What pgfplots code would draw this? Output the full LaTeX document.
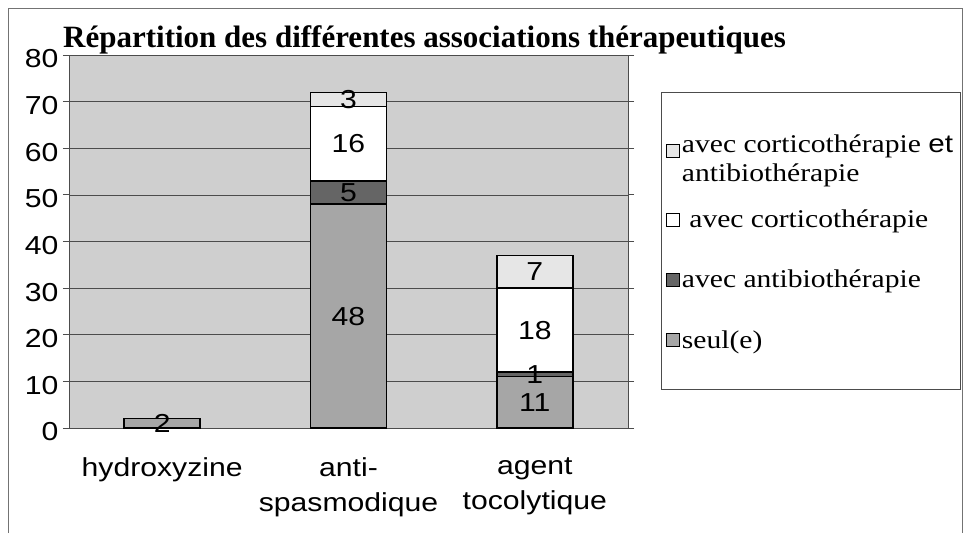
\documentclass[border=0pt]{standalone}
\usepackage{pgfplots}
\usepackage{pgfplotstable}
\pgfplotsset{compat=1.18}
\usepackage{fontspec}
\setmainfont{Liberation Serif}
\newfontfamily\arial{Liberation Sans}[FakeStretch=1.16]
\newfontfamily\timesw{Liberation Serif}[FakeStretch=1.16]
\definecolor{plotbg}{HTML}{CFCFCF}
\definecolor{seul}{HTML}{A6A6A6}
\definecolor{antib}{HTML}{656565}
\definecolor{cortico}{HTML}{FFFFFF}
\definecolor{both}{HTML}{E6E6E6}
\pgfplotstableread{
x a b c d
0 2 0 0 0
1 48 5 16 3
2 11 1 18 7
}\data
\begin{document}
\begin{tikzpicture}[x=1pt,y=1pt]
\path[use as bounding box] (0,0) rectangle (968,533);
\draw[black!55, line width=0.8pt] (8,0) -- (8,525) -- (962,525) -- (962,0);
\node[anchor=base west, inner sep=0pt, font=\fontsize{31}{36}\selectfont\bfseries] at (63,485) {Répartition des différentes associations thérapeutiques};
\begin{axis}[
  at={(69pt,105pt)}, anchor=south west,
  scale only axis, width=559pt, height=373pt,
  ybar stacked, bar width=76pt,
  xmin=-0.5, xmax=2.5, ymin=0, ymax=80,
  ytick={0,10,...,80},
  xtick={0,1,2},
  xticklabels={hydroxyzine, anti-\\spasmodique, agent\\tocolytique},
  x tick style={draw=none},
  extra x ticks={-0.5,0.5,1.5,2.5},
  extra x tick labels={},
  extra x tick style={major tick length=6pt, tick style={draw=black!60, line width=0.6pt}, grid=none},
  tick align=outside,
  y tick style={draw=black!70, line width=0.8pt},
  major tick length=6pt,
  ymajorgrids, grid style={black!70, line width=0.7pt},
  axis line style={black!70, line width=0.8pt},
  axis background/.style={fill=plotbg},
  /pgf/number format/assume math mode=true,
  yticklabel style={font=\arial\fontsize{26}{30}\selectfont, yshift=-4pt, xshift=-1pt},
  xticklabel style={font=\arial\fontsize{26}{35}\selectfont, align=center, yshift=-20pt},
  point meta=explicit,
  nodes near coords={\pgfmathfloatifflags{\pgfplotspointmeta}{0}{}{\pgfmathprintnumber{\pgfplotspointmeta}}},
  every node near coord/.append style={anchor=center, font=\arial\fontsize{26}{30}\selectfont, black},
  legend image code/.code={\draw[#1, line width=0.7pt] (0pt,-6.5pt) rectangle (13pt,6.5pt);},
  reverse legend,
  legend style={at={(1.059,0.901)}, anchor=north west, draw=black!70, line width=0.6pt,
    font=\timesw\fontsize{25.5}{29}\selectfont, cells={anchor=west},
    inner xsep=5pt, inner ysep=38pt, row sep=37pt},
]
\addplot+[fill=seul, draw=black, line width=1.5pt] table[x=x, y=a, meta=a] {\data};
\addplot+[fill=antib, draw=black, line width=1.5pt] table[x=x, y=b, meta=b] {\data};
\addplot+[fill=cortico, draw=black, line width=1.5pt] table[x=x, y=c, meta=c] {\data};
\addplot+[fill=both, draw=black, line width=1.5pt] table[x=x, y=d, meta=d] {\data};
\legend{seul(e), avec antibiothérapie, {\ avec corticothérapie}, {\begin{tabular}{@{}l@{}}avec corticothérapie {\arial et}\\antibiothérapie\end{tabular}}}
\end{axis}
\end{tikzpicture}
\end{document}
